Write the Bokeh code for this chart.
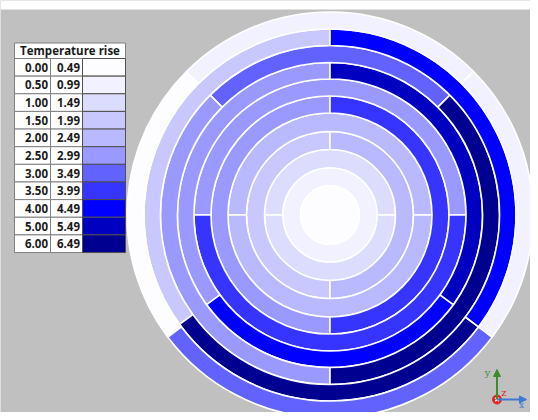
from bokeh.plotting import figure
from bokeh.models import Range1d, ColumnDataSource, Arrow, NormalHead
from bokeh.core.properties import value
from bokeh.embed import file_html
from bokeh.resources import INLINE

# ---------------- data ----------------
legend_title = "Temperature rise"
legend_low = [0.00, 0.50, 1.00, 1.50, 2.00, 2.50, 3.00, 3.50, 4.00, 5.00, 6.00]
legend_high = [0.49, 0.99, 1.49, 1.99, 2.49, 2.99, 3.49, 3.99, 4.49, 5.49, 6.49]
legend_colors = ["#FDFDFF", "#F1F1FF", "#DCDCFF", "#C8C8FF", "#B9B9FF", "#9999FF",
                 "#6262FF", "#3535FF", "#0000FF", "#0000C0", "#000090"]

# layer index 0 = centre disc ... 10 = outermost layer; angles in degrees (ccw from +x)
seg_layer = [0, 1, 2, 2, 3, 3, 4, 4, 5, 5, 6, 6, 7, 7, 7, 8, 8, 8, 9, 9, 9, 10, 10, 10, 10]
seg_start = [0, 0, 0, 180, 90, 270, 0, 180, 90, 270, 0, 180,
             90, 216, 324, 45, 135, 270, 90, 216, 323, 45, 135, 217, 323]
seg_end = [360, 360, 180, 360, 270, 450, 180, 360, 270, 450, 180, 360,
           216, 324, 450, 135, 270, 405, 216, 323, 450, 135, 217, 323, 405]
seg_rise = [0.2, 0.7, 1.2, 1.2, 1.7, 2.2, 2.2, 2.2, 2.7, 3.7, 2.7, 3.7,
            2.7, 4.2, 5.2, 3.2, 2.7, 6.2, 1.7, 6.2, 4.2, 0.7, 0.2, 3.2, 0.7]

# ---------------- geometry / style ----------------
layer_edges = [0, 29.5, 47, 65.5, 83.5, 102, 119, 136, 152.5, 169.5, 186, 203]
CX, CY = 329.5, 214.5          # centre of the disc in picture pixels
W, H = 530, 412
BG = "#C0C0C0"


def X(xi):
    return xi - CX


def Y(yi):
    return CY - yi


def color_for(v):
    for lo, hi, c in zip(legend_low, legend_high, legend_colors):
        if lo <= v < hi + 0.01:
            return c
    return legend_colors[-1]


p = figure(width=W, height=H, output_backend="svg", toolbar_location=None,
           x_range=Range1d(X(0), X(W)), y_range=Range1d(Y(H), Y(0)),
           x_axis_type=None, y_axis_type=None, min_border=0,
           background_fill_color=BG, border_fill_color=BG, outline_line_color=None)
p.grid.visible = False

# white strip along the top edge
p.quad(left=[X(0)], right=[X(W)], top=[Y(0)], bottom=[Y(9)],
       fill_color="white", line_color=None)

full = dict(inner=[], outer=[], color=[])
part = dict(inner=[], outer=[], start=[], end=[], color=[])
for L, s, e, v in zip(seg_layer, seg_start, seg_end, seg_rise):
    if e - s >= 360:
        full["inner"].append(layer_edges[L])
        full["outer"].append(layer_edges[L + 1])
        full["color"].append(color_for(v))
    else:
        part["inner"].append(layer_edges[L])
        part["outer"].append(layer_edges[L + 1])
        part["start"].append(s)
        part["end"].append(e)
        part["color"].append(color_for(v))

n = len(part["inner"])
part["x"] = [0] * n
part["y"] = [0] * n
p.annular_wedge(x="x", y="y", inner_radius="inner", outer_radius="outer",
                start_angle="start", end_angle="end",
                start_angle_units="deg", end_angle_units="deg",
                fill_color="color", line_color="white", line_width=1.6,
                source=ColumnDataSource(part))

for inner, outer, c in zip(full["inner"], full["outer"], full["color"]):
    if inner == 0:
        p.circle(x=[0], y=[0], radius=outer, fill_color=c, line_color="white", line_width=1.6)
    else:
        p.annulus(x=[0], y=[0], inner_radius=inner, outer_radius=outer,
                  fill_color=c, line_color="white", line_width=1.6)

# ---------------- legend table ----------------
tl, c1, c2, tr = 14, 50, 82, 125
top, head_b = 42.5, 58.0
rh = 17.64
border = "#808080"

p.quad(left=[X(tl)], right=[X(tr)], top=[Y(top)], bottom=[Y(head_b)],
       fill_color="white", line_color=border, line_width=1)
p.text(x=[X((tl + tr) / 2)], y=[Y((top + head_b) / 2)], text=[legend_title],
       text_align="center", text_baseline="middle", text_font=value("Open Sans"),
       text_font_style="bold", text_font_size="11.5px", text_color="#1A1A1A")

nrow = len(legend_low)
row_t = [head_b + i * rh for i in range(nrow)]
row_b = [head_b + (i + 1) * rh for i in range(nrow)]
p.quad(left=[X(tl)] * nrow, right=[X(c1)] * nrow, top=[Y(t) for t in row_t],
       bottom=[Y(b) for b in row_b], fill_color="white", line_color=border, line_width=1)
p.quad(left=[X(c1)] * nrow, right=[X(c2)] * nrow, top=[Y(t) for t in row_t],
       bottom=[Y(b) for b in row_b], fill_color="white", line_color=border, line_width=1)
p.quad(left=[X(c2)] * nrow, right=[X(tr)] * nrow, top=[Y(t) for t in row_t],
       bottom=[Y(b) for b in row_b], fill_color=legend_colors, line_color="#505050", line_width=1)

mid = [Y((t + b) / 2) for t, b in zip(row_t, row_b)]
p.text(x=[X(c1 - 2.5)] * nrow, y=mid, text=["%.2f" % v for v in legend_low],
       text_align="right", text_baseline="middle", text_font=value("Open Sans"),
       text_font_style="bold", text_font_size="11.5px", text_color="#1A1A1A")
p.text(x=[X(c2 - 2.5)] * nrow, y=mid, text=["%.2f" % v for v in legend_high],
       text_align="right", text_baseline="middle", text_font=value("Open Sans"),
       text_font_style="bold", text_font_size="11.5px", text_color="#1A1A1A")

# ---------------- axis triad ----------------
ox, oy = 496.5, 399.0
green, blue, red = "#3C8C2C", "#3F78D0", "#E02828"
p.add_layout(Arrow(end=NormalHead(size=7, fill_color=green, line_color=green),
                   x_start=X(ox), y_start=Y(oy), x_end=X(ox), y_end=Y(369),
                   line_color=green, line_width=2))
p.add_layout(Arrow(end=NormalHead(size=7, fill_color=blue, line_color=blue),
                   x_start=X(ox), y_start=Y(oy), x_end=X(526), y_end=Y(oy),
                   line_color=blue, line_width=2))
p.scatter(x=[X(ox)], y=[Y(oy)], size=9, marker="circle", fill_color=red, line_color=red)
p.scatter(x=[X(ox)], y=[Y(oy)], size=5, marker="x", line_color="white", line_width=1.2)
p.text(x=[X(487)], y=[Y(372)], text=["y"], text_align="center", text_baseline="middle",
       text_font=value("DejaVu Serif"), text_font_size="10px", text_color=green)
p.text(x=[X(521)], y=[Y(404.5)], text=["x"], text_align="center", text_baseline="middle",
       text_font=value("DejaVu Serif"), text_font_size="9px", text_color=blue)
p.text(x=[X(503.5)], y=[Y(392)], text=["z"], text_align="center", text_baseline="middle",
       text_font=value("DejaVu Serif"), text_font_size="10px", text_color=red)

open("out.html", "w").write(file_html(p, INLINE))
